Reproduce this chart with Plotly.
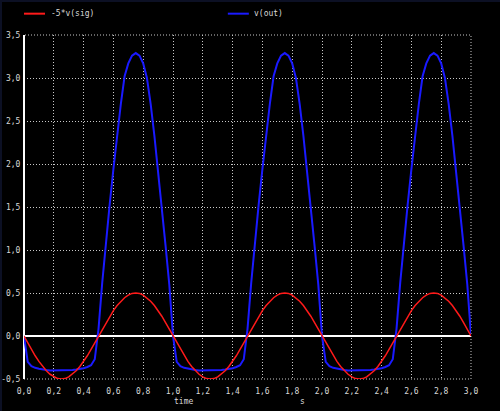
import plotly.graph_objs as go

# Sample times (s)
time = [
    0.0, 0.025, 0.05, 0.075, 0.1, 0.125, 0.15, 0.175, 0.2, 0.225,
    0.25, 0.275, 0.3, 0.325, 0.35, 0.375, 0.4, 0.425, 0.45, 0.475,
    0.5, 0.525, 0.55, 0.575, 0.6, 0.625, 0.65, 0.675, 0.7, 0.725,
    0.75, 0.775, 0.8, 0.825, 0.85, 0.875, 0.9, 0.925, 0.95, 0.975,
    1.0, 1.025, 1.05, 1.075, 1.1, 1.125, 1.15, 1.175, 1.2, 1.225,
    1.25, 1.275, 1.3, 1.325, 1.35, 1.375, 1.4, 1.425, 1.45, 1.475,
    1.5, 1.525, 1.55, 1.575, 1.6, 1.625, 1.65, 1.675, 1.7, 1.725,
    1.75, 1.775, 1.8, 1.825, 1.85, 1.875, 1.9, 1.925, 1.95, 1.975,
    2.0, 2.025, 2.05, 2.075, 2.1, 2.125, 2.15, 2.175, 2.2, 2.225,
    2.25, 2.275, 2.3, 2.325, 2.35, 2.375, 2.4, 2.425, 2.45, 2.475,
    2.5, 2.525, 2.55, 2.575, 2.6, 2.625, 2.65, 2.675, 2.7, 2.725,
    2.75, 2.775, 2.8, 2.825, 2.85, 2.875, 2.9, 2.925, 2.95, 2.975,
    3.0,
]

# -5*v(sig)
sig = [
    0.0, -0.08, -0.155, -0.23, -0.295, -0.355, -0.405, -0.445, -0.475, -0.495,
    -0.5, -0.495, -0.475, -0.445, -0.405, -0.355, -0.295, -0.23, -0.155, -0.08,
    0.0, 0.08, 0.155, 0.23, 0.295, 0.355, 0.405, 0.445, 0.475, 0.495,
    0.5, 0.495, 0.475, 0.445, 0.405, 0.355, 0.295, 0.23, 0.155, 0.08,
    0.0, -0.08, -0.155, -0.23, -0.295, -0.355, -0.405, -0.445, -0.475, -0.495,
    -0.5, -0.495, -0.475, -0.445, -0.405, -0.355, -0.295, -0.23, -0.155, -0.08,
    0.0, 0.08, 0.155, 0.23, 0.295, 0.355, 0.405, 0.445, 0.475, 0.495,
    0.5, 0.495, 0.475, 0.445, 0.405, 0.355, 0.295, 0.23, 0.155, 0.08,
    0.0, -0.08, -0.155, -0.23, -0.295, -0.355, -0.405, -0.445, -0.475, -0.495,
    -0.5, -0.495, -0.475, -0.445, -0.405, -0.355, -0.295, -0.23, -0.155, -0.08,
    0.0, 0.08, 0.155, 0.23, 0.295, 0.355, 0.405, 0.445, 0.475, 0.495,
    0.5, 0.495, 0.475, 0.445, 0.405, 0.355, 0.295, 0.23, 0.155, 0.08,
    0.0,
]

# v(out)
out = [
    0.0, -0.30, -0.35, -0.37, -0.38, -0.39, -0.395, -0.40, -0.40, -0.40,
    -0.40, -0.40, -0.40, -0.395, -0.39, -0.385, -0.375, -0.36, -0.34, -0.27,
    0.08, 0.62, 1.10, 1.53, 1.94, 2.35, 2.70, 3.02, 3.17, 3.26,
    3.29, 3.26, 3.17, 3.00, 2.70, 2.33, 1.92, 1.50, 1.05, 0.60,
    0.0, -0.30, -0.35, -0.37, -0.38, -0.39, -0.395, -0.40, -0.40, -0.40,
    -0.40, -0.40, -0.40, -0.395, -0.39, -0.385, -0.375, -0.36, -0.34, -0.27,
    0.08, 0.62, 1.10, 1.53, 1.94, 2.35, 2.70, 3.02, 3.17, 3.26,
    3.29, 3.26, 3.17, 3.00, 2.70, 2.33, 1.92, 1.50, 1.05, 0.60,
    0.0, -0.30, -0.35, -0.37, -0.38, -0.39, -0.395, -0.40, -0.40, -0.40,
    -0.40, -0.40, -0.40, -0.395, -0.39, -0.385, -0.375, -0.36, -0.34, -0.27,
    0.08, 0.62, 1.10, 1.53, 1.94, 2.35, 2.70, 3.02, 3.17, 3.26,
    3.29, 3.26, 3.17, 3.00, 2.70, 2.33, 1.92, 1.50, 1.05, 0.60,
    0.0,
]

# Tick positions and labels (spice style, comma decimals)
x_ticks = [0.0, 0.2, 0.4, 0.6, 0.8, 1.0, 1.2, 1.4, 1.6, 1.8, 2.0, 2.2, 2.4, 2.6, 2.8, 3.0]
x_labels = ['0,0', '0,2', '0,4', '0,6', '0,8', '1,0', '1,2', '1,4', '1,6', '1,8',
            '2,0', '2,2', '2,4', '2,6', '2,8', '3,0']
y_ticks = [-0.5, 0.0, 0.5, 1.0, 1.5, 2.0, 2.5, 3.0, 3.5]
y_labels = ['-0,5', '0,0', '0,5', '1,0', '1,5', '2,0', '2,5', '3,0', '3,5']

names = ['-5*v(sig)', 'v(out)']
colors = ['#ff1a1a', '#1a1aff']

txt = dict(family='DejaVu Sans Mono', size=8, color='#d8d8d8')
grid = '#c8c8c8'

data = [
    go.Scatter(x=time, y=out, mode='lines', name=names[1],
               line=dict(color=colors[1], width=2), showlegend=False),
    go.Scatter(x=time, y=sig, mode='lines', name=names[0],
               line=dict(color=colors[0], width=1.5), showlegend=False),
]

# invisible ticks just to push the labels off the axes a little
hidden_ticks = dict(ticks='outside', tickcolor='rgba(0,0,0,0)')

layout = go.Layout(
    width=498, height=409,
    paper_bgcolor='black', plot_bgcolor='black',
    margin=dict(l=22, r=29, t=33, b=32),
    font=txt,
    xaxis=dict(range=[0, 3], tickvals=x_ticks, ticktext=x_labels, automargin=False,
               showgrid=True, gridcolor=grid, griddash='1px,2px', gridwidth=1,
               zeroline=True, zerolinecolor='white', zerolinewidth=2,
               showline=False, ticklen=4, tickfont=txt, **hidden_ticks),
    yaxis=dict(range=[-0.5, 3.5], tickvals=y_ticks, ticktext=y_labels, automargin=False,
               showgrid=True, gridcolor=grid, griddash='1px,2px', gridwidth=1,
               zeroline=True, zerolinecolor='white', zerolinewidth=2,
               showline=False, ticklen=1, tickfont=txt, **hidden_ticks),
    shapes=[
        # dotted frame round the plot area
        dict(type='rect', xref='paper', yref='paper', x0=0, y0=0, x1=1, y1=1,
             line=dict(color=grid, width=1, dash='1px,2px'), layer='below'),
        # legend swatches
        dict(type='line', xref='paper', yref='paper', x0=0.0, x1=0.047, y0=1.062, y1=1.062,
             line=dict(color=colors[0], width=2)),
        dict(type='line', xref='paper', yref='paper', x0=0.456, x1=0.503, y0=1.062, y1=1.062,
             line=dict(color=colors[1], width=2)),
    ],
    annotations=[
        dict(text=names[0], xref='paper', yref='paper', x=0.056, y=1.062,
             xanchor='left', yanchor='middle', showarrow=False, font=txt),
        dict(text=names[1], xref='paper', yref='paper', x=0.510, y=1.062,
             xanchor='left', yanchor='middle', showarrow=False, font=txt),
        dict(text='time', xref='paper', yref='paper', x=0.356, y=-0.064,
             xanchor='center', yanchor='middle', showarrow=False, font=txt),
        dict(text='s', xref='paper', yref='paper', x=0.622, y=-0.064,
             xanchor='center', yanchor='middle', showarrow=False, font=txt),
    ],
)

fig = go.Figure(data=data, layout=layout)

# thin dark window frame like the spice plot window
frame_js = ("document.body.style.margin='0';"
            "document.body.style.padding='2px 0 0 2px';"
            "document.body.style.background='#0c1024';"
            "document.body.style.overflow='hidden';")
fig.write_html("out.html", post_script=frame_js)
